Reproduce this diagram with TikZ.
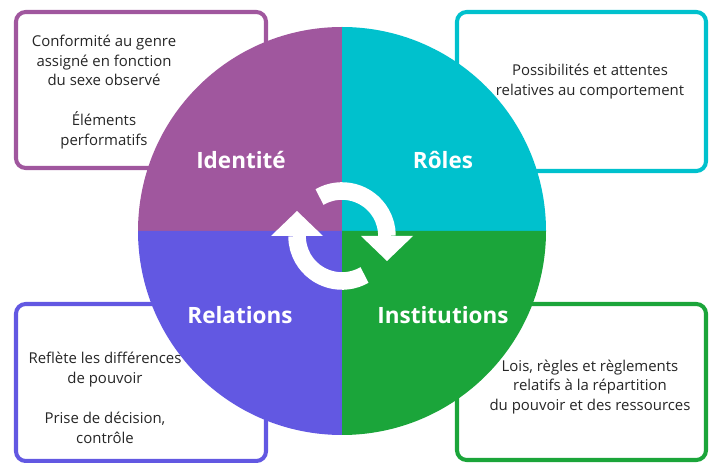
\documentclass[tikz,border=0pt]{standalone}
\usepackage{fontspec}
\setmainfont{Open Sans}
\usepackage{xcolor}
\usetikzlibrary{positioning}
\definecolor{identcol}{RGB}{160,87,158}
\definecolor{rolecol}{RGB}{0,193,205}
\definecolor{relcol}{RGB}{98,88,226}
\definecolor{instcol}{RGB}{27,165,58}

\begin{document}
\begin{tikzpicture}[
x=0.02cm, y=0.02cm,
infobox/.style={line width=2.3pt, rounded corners=5.5pt, fill=white},
title/.style={text=white, font=\fontsize{12.8}{15}\selectfont\bfseries},
desc/.style={align=center, text=black!85, font=\fontsize{8.5}{11.3}\selectfont},
cyclearc/.style={white, line width=10pt}
]
    \useasboundingbox (0,0) rectangle (710,463);

    % Draw boxes
    \draw[infobox, draw=identcol] (16,451) rectangle (266,295);
    \draw[infobox, draw=rolecol] (457,451) rectangle (706,292);
    \draw[infobox, draw=relcol] (16,159) rectangle (266,2);
    \draw[infobox, draw=instcol] (457,159) rectangle (706,3);

    % Quarters of the circle
    \coordinate (O) at (342,232);
    \fill[identcol] (O) -- ++(90:204) arc[start angle=90, end angle=180, radius=204] -- cycle;
    \fill[rolecol] (O) -- ++(0:204) arc[start angle=0, end angle=90, radius=204] -- cycle;
    \fill[relcol] (O) -- ++(180:204) arc[start angle=180, end angle=270, radius=204] -- cycle;
    \fill[instcol] (O) -- ++(270:204) arc[start angle=270, end angle=360, radius=204] -- cycle;

    \node[title] (identite) at (241,303) {Identité};
    \node[title] (roles) at (443,303) {Rôles};
    \node[title] (relations) at (240,148) {Relations};
    \node[title] (institutions) at (443,148) {Institutions};

    % Cycle arrows
    \coordinate (C) at (342,227);
    \draw[cyclearc] (C) ++(120:45) arc[start angle=120, end angle=0, radius=45];
    \fill[white] (361,227) -- (413,227) -- (387,202) -- cycle;
    \draw[cyclearc] (C) ++(-60:45) arc[start angle=-60, end angle=-180, radius=45];
    \fill[white] (323,227) -- (271,227) -- (297,252) -- cycle;

    % Texts
    \node[desc] (identtxt) at (104,371) {Conformité au genre\\assigné en fonction\\du sexe observé\\[11.3pt]Éléments\\performatifs};
    \node[desc] (roletxt) at (590,381) {Possibilités et attentes\\relatives au comportement};
    \node[desc] (reltxt) at (105,65) {Reflète les différences\\de pouvoir\\[11.3pt]Prise de décision,\\contrôle};
    \node[desc] (insttxt) at (590,76) {Lois, règles et règlements\\relatifs à la répartition\\du pouvoir et des ressources};
\end{tikzpicture}
\end{document}
